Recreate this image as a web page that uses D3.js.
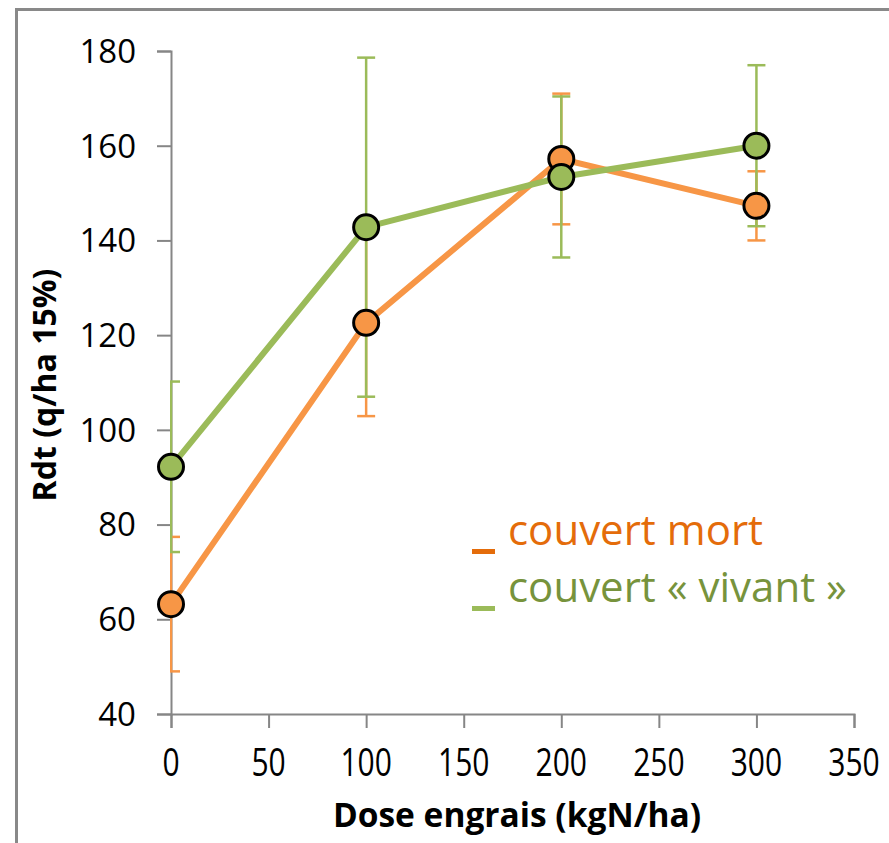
<!DOCTYPE html>
<html>
<head>
<meta charset="utf-8">
<script src="https://cdn.jsdelivr.net/npm/d3@7"></script>
<style>
  body { margin: 0; background: #fff; }
  text { font-family: "Open Sans", sans-serif; }
</style>
</head>
<body>
<div id="chart"></div>
<script>
// Data
const doses = [0, 100, 200, 300];
const mort = [63.2, 122.6, 157.2, 147.3];
const mortErr = [14.2, 19.7, 13.8, 7.3];
const vivant = [92.2, 142.8, 153.4, 160.0];
const vivantErr = [18, 35.8, 17, 17];
const xTicks = [0, 50, 100, 150, 200, 250, 300, 350];
const yTicks = [40, 60, 80, 100, 120, 140, 160, 180];
const seriesNames = ["couvert mort", "couvert « vivant »"];

const width = 889;
const height = 843;

const x = d3.scaleLinear().domain([0, 350]).range([171, 854]);
const y = d3.scaleLinear().domain([40, 180]).range([714, 51]);

const svg = d3.select("#chart")
    .append("svg")
    .attr("width", width)
    .attr("height", height);

// outer frame
svg.append("path")
    .attr("d", `M16.5,${height} V9.5 H${width}`)
    .attr("fill", "none")
    .attr("stroke", "#898989")
    .attr("stroke-width", 3);

// clip to plot area
svg.append("clipPath").attr("id", "plot")
    .append("rect")
    .attr("x", x(0) - 1).attr("y", 0)
    .attr("width", 700).attr("height", y(40) + 1);

// axes
const axisColor = "#868686";
const xAxis = svg.append("g")
    .attr("transform", `translate(0,${y(40)})`)
    .call(d3.axisBottom(x).tickValues(xTicks).tickSize(14).tickFormat(""));
const yAxis = svg.append("g")
    .attr("transform", `translate(${x(0)},0)`)
    .call(d3.axisLeft(y).tickValues(yTicks).tickSize(14).tickFormat(""));
[xAxis, yAxis].forEach(g => {
    g.select(".domain").attr("stroke", axisColor).attr("stroke-width", 2);
    g.selectAll(".tick line").attr("stroke", axisColor).attr("stroke-width", 2);
});

// tick labels
svg.selectAll(".ylab")
    .data(yTicks)
    .enter().append("text")
    .attr("class", "ylab")
    .attr("x", 136)
    .attr("y", d => y(d))
    .attr("dy", "0.36em")
    .attr("text-anchor", "end")
    .attr("font-size", "33px")
    .attr("fill", "#000")
    .text(d => d);

svg.selectAll(".xlab")
    .data(xTicks)
    .enter().append("text")
    .attr("class", "xlab")
    .attr("transform", d => `translate(${x(d)},776) scale(1,1.3)`)
    .attr("text-anchor", "middle")
    .attr("font-size", "30px")
    .attr("fill", "#000")
    .text(d => d);

// axis titles
svg.append("text")
    .attr("x", 517).attr("y", 827)
    .attr("text-anchor", "middle")
    .attr("font-size", "33.5px")
    .attr("font-weight", "bold")
    .text("Dose engrais (kgN/ha)");

svg.append("text")
    .attr("transform", "translate(56,385) rotate(-90)")
    .attr("text-anchor", "middle")
    .attr("font-size", "32px")
    .attr("font-weight", "bold")
    .text("Rdt (q/ha 15%)");

const series = [
    { name: seriesNames[0], values: mort, err: mortErr, color: "#F79646", text: "#E46C0A", dash: "#E46C0A" },
    { name: seriesNames[1], values: vivant, err: vivantErr, color: "#9BBB59", text: "#77933C", dash: "#9BBB59" }
];

// error bars
const errG = svg.append("g").attr("clip-path", "url(#plot)");
series.forEach(s => {
    const g = errG.append("g").attr("stroke", s.color).attr("stroke-width", 2.5);
    doses.forEach((d, i) => {
        const lo = s.values[i] - s.err[i];
        const hi = s.values[i] + s.err[i];
        g.append("line").attr("x1", x(d)).attr("x2", x(d)).attr("y1", y(lo)).attr("y2", y(hi));
        g.append("line").attr("x1", x(d) - 9).attr("x2", x(d) + 9).attr("y1", y(lo)).attr("y2", y(lo));
        g.append("line").attr("x1", x(d) - 9).attr("x2", x(d) + 9).attr("y1", y(hi)).attr("y2", y(hi));
    });
});

// lines
const line = d3.line().x((d, i) => x(doses[i])).y(d => y(d));
series.forEach(s => {
    svg.append("path")
        .datum(s.values)
        .attr("fill", "none")
        .attr("stroke", s.color)
        .attr("stroke-width", 6)
        .attr("d", line);
});

// markers
series.forEach(s => {
    svg.selectAll(null)
        .data(s.values)
        .enter().append("circle")
        .attr("cx", (d, i) => x(doses[i]))
        .attr("cy", d => y(d))
        .attr("r", 12.5)
        .attr("fill", s.color)
        .attr("stroke", "#000")
        .attr("stroke-width", 3);
});

// legend
series.forEach((s, i) => {
    const yy = 545 + i * 57;
    svg.append("rect")
        .attr("x", 472).attr("y", yy + 4)
        .attr("width", 23).attr("height", 5)
        .attr("fill", s.dash);
    svg.append("text")
        .attr("x", 508).attr("y", yy)
        .attr("font-size", "42px")
        .attr("fill", s.text)
        .text(s.name);
});
</script>
</body>
</html>
